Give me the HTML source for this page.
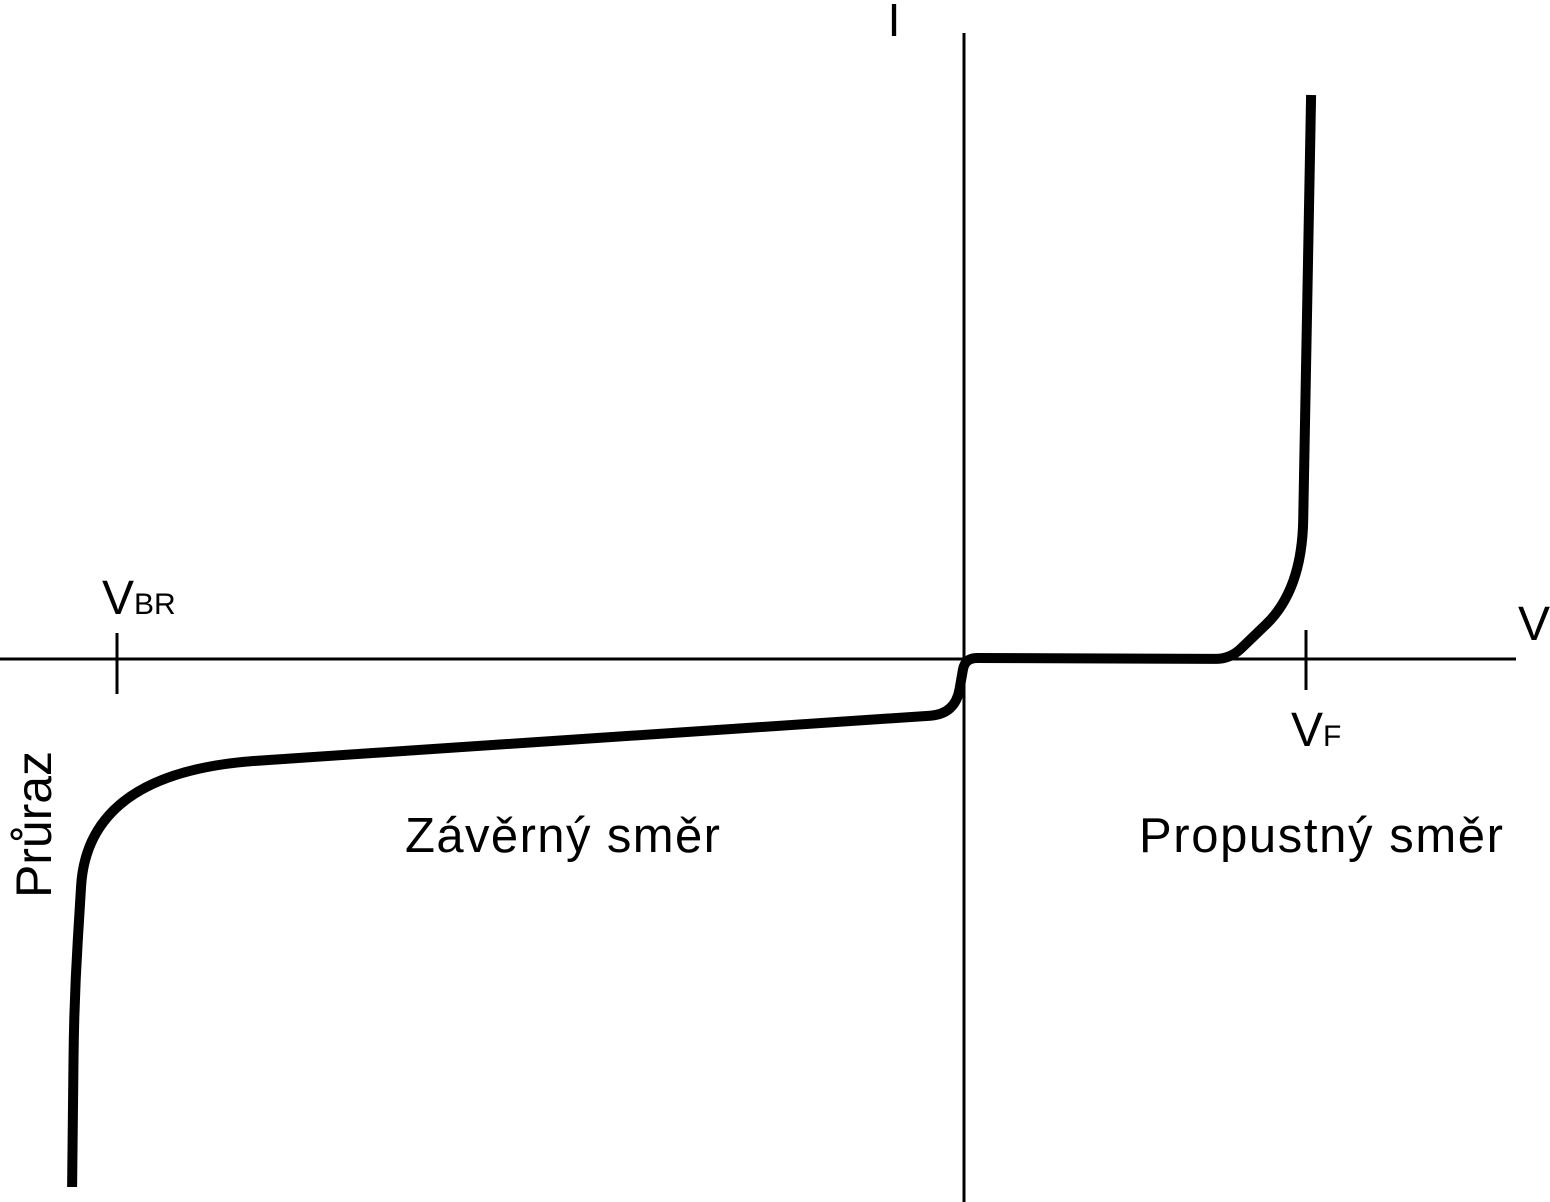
<!DOCTYPE html>
<html><head><meta charset="utf-8"><style>
html,body{margin:0;padding:0;background:#fff;}
svg{display:block;}
text{font-family:"Liberation Sans","DejaVu Sans",sans-serif;fill:#000;}
</style></head><body>
<svg id="chart" width="1550" height="1202" viewBox="0 0 1550 1202">
<line x1="0" y1="659" x2="1516" y2="659" stroke="#000" stroke-width="3"/>
<line x1="964" y1="33" x2="964" y2="1202" stroke="#000" stroke-width="3"/>
<line x1="117" y1="633" x2="117" y2="694" stroke="#000" stroke-width="3"/>
<line x1="1306" y1="630" x2="1306" y2="690" stroke="#000" stroke-width="3"/>
<text x="894" y="36" font-size="46" text-anchor="middle">I</text>
<text x="1534" y="640" font-size="48" text-anchor="middle">V</text>
<text x="102" y="614" font-size="48">V<tspan font-size="30">BR</tspan></text>
<text x="1291" y="746" font-size="48">V<tspan font-size="30">F</tspan></text>
<text x="405" y="852" font-size="49" textLength="315">Závěrný směr</text>
<text x="1139" y="852" font-size="49" textLength="364">Propustný směr</text>
<text transform="translate(51,898) rotate(-90)" font-size="50" textLength="147">Průraz</text>
<path id="curve" fill="none" stroke="#000" stroke-width="10" stroke-linejoin="round"/>
</svg>
<script>
const voltage = [-2.608,-2.602,-2.561,-0.026,0.003,0.778,0.988,1.015];
const current = [-5.28,-3.41,-1.13,-0.55,0.01,0.0,0.69,5.64];
function xScale(v){return 964 + v*342;}
function yScale(i){return 659 - i*100;}
const cornerRadius = [0,60,170,25,12,15,70,0];
const pts = voltage.map((v,k)=>[xScale(v), yScale(current[k])]);
const f = n => n.toFixed(1);
function toward(a,b,dist){const dx=b[0]-a[0],dy=b[1]-a[1],L=Math.hypot(dx,dy);const t=Math.min(dist/L,0.5);return [a[0]+dx*t,a[1]+dy*t];}
let d = 'M'+f(pts[0][0])+','+f(pts[0][1]);
for(let k=1;k<pts.length-1;k++){
  const r=cornerRadius[k];
  const p1=toward(pts[k],pts[k-1],r), p2=toward(pts[k],pts[k+1],r);
  d+=' L'+f(p1[0])+','+f(p1[1])+' Q'+f(pts[k][0])+','+f(pts[k][1])+' '+f(p2[0])+','+f(p2[1]);
}
const last=pts[pts.length-1];
d+=' L'+f(last[0])+','+f(last[1]);
document.getElementById('curve').setAttribute('d', d);
</script>
</body></html>
